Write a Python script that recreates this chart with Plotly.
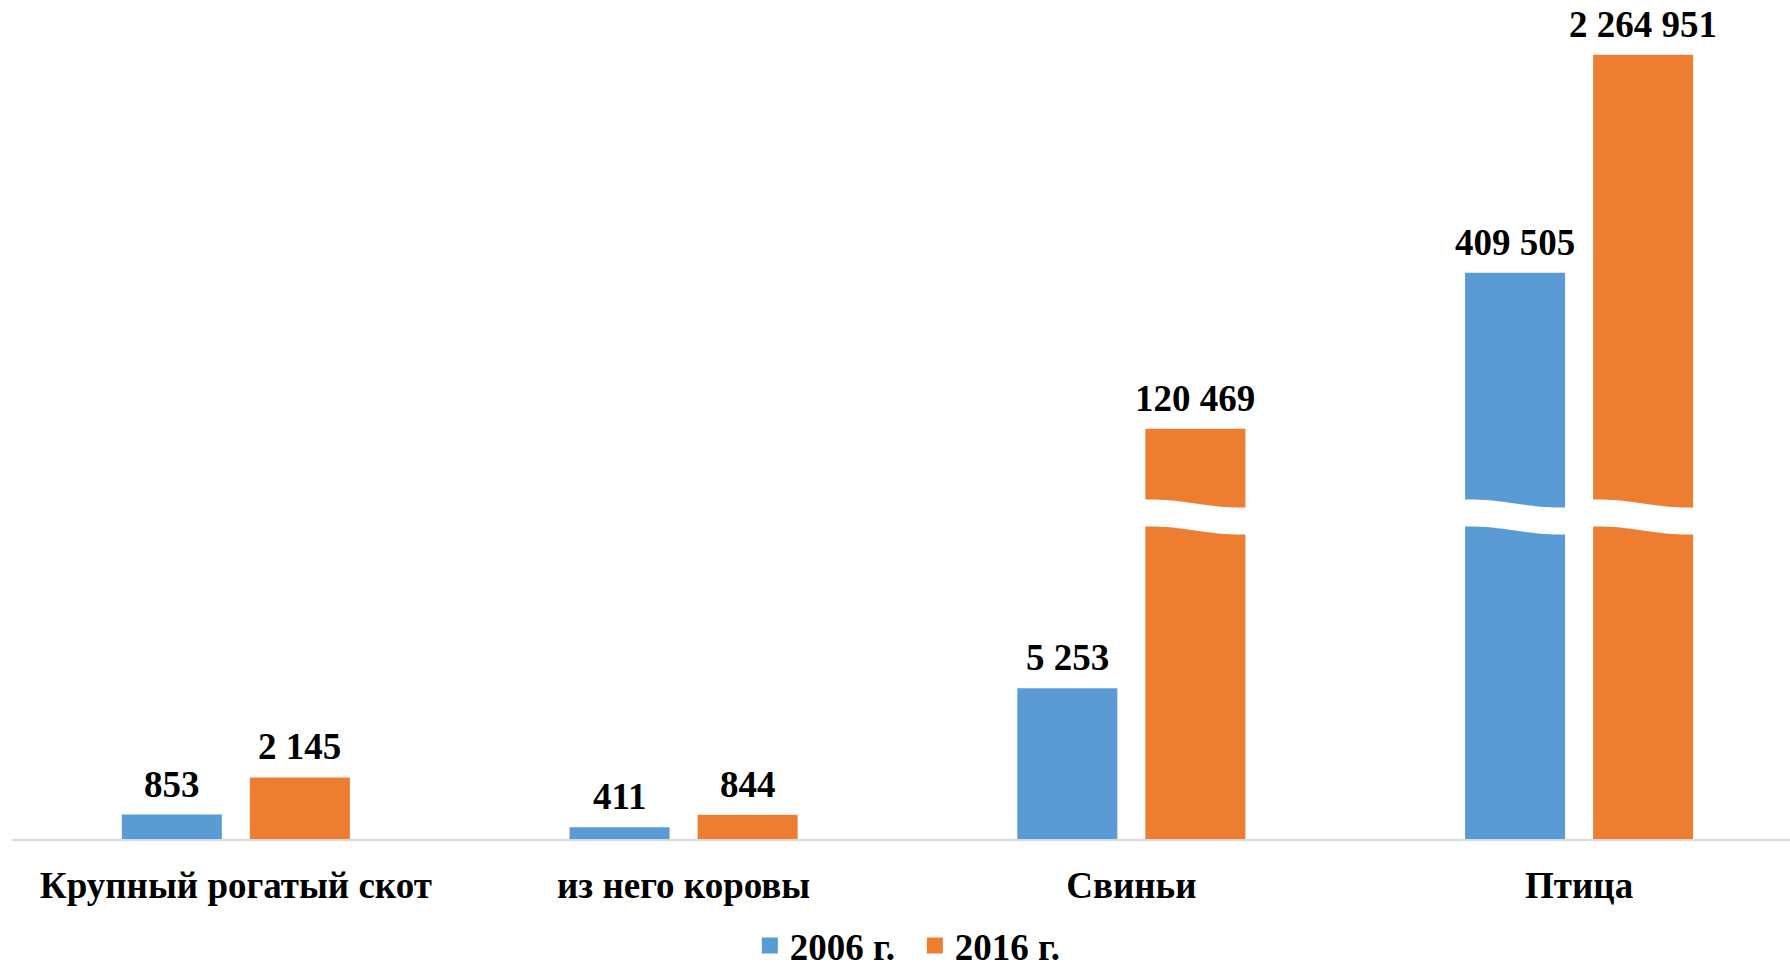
import numpy as np
import plotly.graph_objects as go

# Livestock and poultry counts, 2006 vs 2016
categories = ["Крупный рогатый скот", "из него коровы", "Свиньи", "Птица"]
series_names = ["2006 г.", "2016 г."]
values_2006 = [853, 411, 5253, 409505]
values_2016 = [2145, 844, 120469, 2264951]

series_values = [values_2006, values_2016]
series_colors = ["#5B9BD5", "#ED7D31"]

W, H = 1790, 969
M_L, M_R, M_T, M_B = 12, 0, 0, 130
PLOT_H = H - M_T - M_B

# Broken value axis: linear lower segment, logarithmic upper segment
BREAK_PX = 322                    # height of the break above the baseline
LOWER_MAX = 11218                 # value reached at the break on the linear part
UPPER_RANGE = [4.7803, 6.5413]    # log10 range of the upper part
D_BREAK = BREAK_PX / PLOT_H
GAP_PX = 27
WAVE_PX = 4

BAR_W = 0.2234
OFFSET = 0.143
X_RANGE = [-0.5, 3.471]

FONT = "Times New Roman, Liberation Serif, serif"
FS = 37

fig = go.Figure()
annotations = []
shapes = []

for k, (name, vals, color) in enumerate(zip(series_names, series_values, series_colors)):
    off = -OFFSET if k == 0 else OFFSET
    xs = [i + off for i in range(len(categories))]

    # lower (linear) part: tall bars are clipped at the break
    fig.add_trace(go.Bar(
        x=xs, y=vals, width=BAR_W, marker=dict(color=color, line=dict(width=0)),
        yaxis="y", showlegend=False, hoverinfo="skip",
    ))
    # upper (log) part for values beyond the break
    upper = [v if v > LOWER_MAX else None for v in vals]
    fig.add_trace(go.Bar(
        x=xs, y=upper, base=1, width=BAR_W, marker=dict(color=color, line=dict(width=0)),
        yaxis="y2", showlegend=False, hoverinfo="skip",
    ))
    # legend entry
    fig.add_trace(go.Scatter(
        x=[None], y=[None], mode="markers", name=name,
        marker=dict(symbol="square", size=19, color=color),
    ))

    for x, v in zip(xs, vals):
        label = f"{v:,}".replace(",", " ")
        if v > LOWER_MAX:
            annotations.append(dict(
                x=x, y=np.log10(v), xref="x", yref="y2", text=label, showarrow=False,
                yanchor="bottom", xanchor="center", yshift=8,
                font=dict(family=FONT, size=FS, color="black", weight="bold"),
            ))
            # wavy white gap marking the axis break
            t = np.linspace(0, 1, 40)
            wave = WAVE_PX * np.sin(2 * np.pi * (t - 0.5) * 0.6)
            x0, x1 = x - BAR_W / 2 - 0.006, x + BAR_W / 2 + 0.006
            xt = x0 + (x1 - x0) * t
            top = (BREAK_PX + GAP_PX / 2 - wave) / PLOT_H
            bot = (BREAK_PX - GAP_PX / 2 - wave) / PLOT_H
            pts = [f"{a:.5f},{b:.5f}" for a, b in zip(xt, top)]
            pts += [f"{a:.5f},{b:.5f}" for a, b in zip(xt[::-1], bot[::-1])]
            shapes.append(dict(
                type="path", xref="x", yref="paper", layer="above",
                path="M" + " L".join(pts) + " Z",
                fillcolor="white", line=dict(width=0),
            ))
        else:
            annotations.append(dict(
                x=x, y=v, xref="x", yref="y", text=label, showarrow=False,
                yanchor="bottom", xanchor="center", yshift=8,
                font=dict(family=FONT, size=FS, color="black", weight="bold"),
            ))

fig.update_layout(
    width=W, height=H,
    margin=dict(l=M_L, r=M_R, t=M_T, b=M_B, pad=0, autoexpand=False),
    paper_bgcolor="white", plot_bgcolor="white",
    barmode="overlay",
    xaxis=dict(
        range=X_RANGE, tickvals=list(range(len(categories))), ticktext=categories,
        showgrid=False, zeroline=False, showline=True, linecolor="#D9D9D9", linewidth=1.5,
        ticks="", ticklabelstandoff=13,
        tickfont=dict(family=FONT, size=FS, color="black", weight="bold"),
        anchor="y", fixedrange=True,
    ),
    yaxis=dict(domain=[0, D_BREAK], range=[0, LOWER_MAX], visible=False, anchor="x"),
    yaxis2=dict(domain=[D_BREAK, 1], type="log", range=UPPER_RANGE, visible=False, anchor="x"),
    legend=dict(
        orientation="h", x=0.415, xanchor="left", y=-0.1275, yanchor="middle",
        entrywidth=120, tracegroupgap=0,
        font=dict(family=FONT, size=FS, color="black", weight="bold"),
        bgcolor="rgba(0,0,0,0)", borderwidth=0,
    ),
    annotations=annotations,
    shapes=shapes,
    showlegend=True,
)

fig.write_html("out.html")
